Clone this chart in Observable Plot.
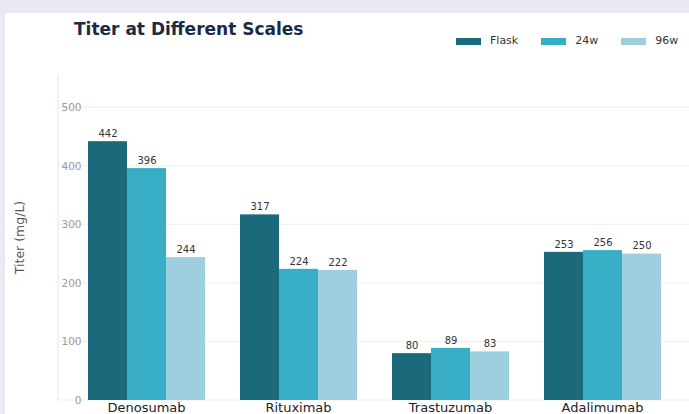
<!DOCTYPE html>
<html>
<head>
<meta charset="utf-8">
<script src="https://cdn.jsdelivr.net/npm/d3@7"></script>
<script src="https://cdn.jsdelivr.net/npm/@observablehq/plot@0.6"></script>
<style>
  html, body { margin: 0; padding: 0; width: 689px; height: 414px; overflow: hidden; background: #ebe7f3; font-family: "DejaVu Sans", sans-serif; }
  #card { position: absolute; left: 5px; top: 13px; right: 0; bottom: 0; background: #ffffff; }
  #title { position: absolute; left: 74px; top: 19px; font-size: 17px; font-weight: bold; color: #1c2b45; white-space: nowrap; line-height: 20px; }
  #legend { position: absolute; left: 456px; top: 34px; font-size: 11px; color: #333; display: flex; align-items: center; white-space: nowrap; line-height: 14px; }
  #legend .item { display: flex; align-items: center; margin-right: 23px; }
  #legend .sw { width: 25px; height: 7px; margin-right: 9px; }
  #chart { position: absolute; left: 0; top: 60px; }
</style>
</head>
<body>
<div id="card"></div>
<div id="title">Titer at Different Scales</div>
<div id="legend"></div>
<div id="chart"></div>
<script>
const drugs = ["Denosumab", "Rituximab", "Trastuzumab", "Adalimumab"];
const scales = ["Flask", "24w", "96w"];
const flask = [442, 317, 80, 253];
const w24 = [396, 224, 89, 256];
const w96 = [244, 222, 83, 250];
const colors = ["#1b6a7b", "#38aec6", "#9ecfdf"];
const yTicks = [0, 100, 200, 300, 400, 500];

const series = [flask, w24, w96];
const data = [];
drugs.forEach((d, i) => scales.forEach((s, j) => data.push({drug: d, scale: s, value: series[j][i]})));

// legend
const leg = document.getElementById("legend");
scales.forEach((s, j) => {
  const it = document.createElement("div");
  it.className = "item";
  const sw = document.createElement("span");
  sw.className = "sw";
  sw.style.background = colors[j];
  const tx = document.createElement("span");
  tx.textContent = s;
  it.appendChild(sw); it.appendChild(tx);
  leg.appendChild(it);
});

const plot = Plot.plot({
  width: 689,
  height: 360,
  marginLeft: 58,
  marginRight: 0,
  marginTop: 15,
  marginBottom: 20,
  style: {fontFamily: "DejaVu Sans, sans-serif", background: "transparent", overflow: "visible"},
  fx: {domain: drugs, paddingInner: 0.2237, paddingOuter: 0.187, label: null},
  x: {domain: scales, padding: 0, axis: null},
  y: {domain: [0, 555], label: null},
  color: {domain: scales, range: colors},
  marks: [
    Plot.axisY(yTicks, {tickSize: 0, tickPadding: 6, fontSize: 10.5, fill: "#9a9a9a", label: null}),
    Plot.axisFx({anchor: "bottom", tickSize: 0, tickPadding: 2, fontSize: 13, fill: "#222", label: null}),
    Plot.barY(data, {fx: "drug", x: "scale", y: "value", fill: "scale"}),
    Plot.text(data, {fx: "drug", x: "scale", y: "value", text: d => String(d.value), dy: -8, fontSize: 10, fill: "#333"})
  ]
});
document.getElementById("chart").appendChild(plot);

// continuous gridlines, y axis line and title, positioned from the y scale
const ys = plot.scale("y");
const yScale = d3.scaleLinear(ys.domain, ys.range);
const svg = d3.select(plot);
svg.insert("g", ":first-child")
  .selectAll("line")
  .data(yTicks)
  .join("line")
  .attr("x1", 58).attr("x2", 689)
  .attr("y1", d => yScale(d)).attr("y2", d => yScale(d))
  .attr("stroke", "#efefef");
svg.append("line")
  .attr("x1", 58).attr("x2", 58)
  .attr("y1", ys.range[1]).attr("y2", ys.range[0])
  .attr("stroke", "#e6e6e6");
svg.append("text")
  .attr("transform", `translate(20,${(ys.range[0] + ys.range[1]) / 2}) rotate(-90)`)
  .attr("text-anchor", "middle")
  .attr("dominant-baseline", "middle")
  .attr("font-size", 12.5)
  .attr("fill", "#555")
  .text("Titer (mg/L)");
</script>
</body>
</html>
